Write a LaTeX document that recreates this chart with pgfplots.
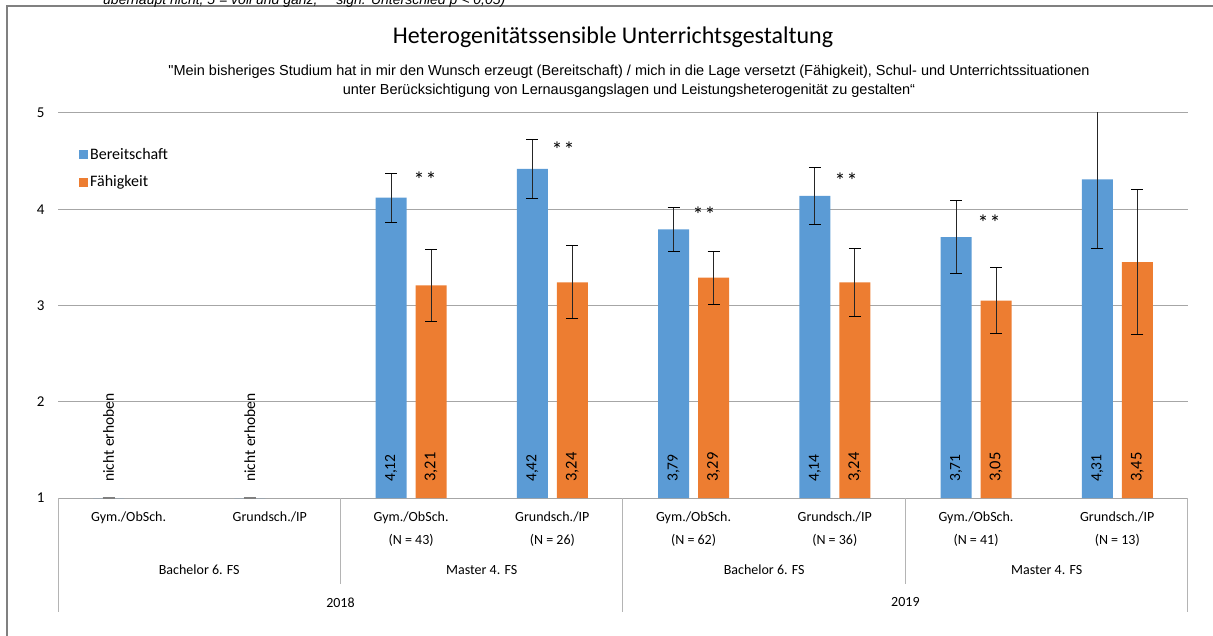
\documentclass[border=0pt]{standalone}
\usepackage{fontspec}
\setmainfont{Carlito}
\newfontfamily\arial{Liberation Sans}
\usepackage{pgfplots}
\pgfplotsset{compat=1.18}
\usepackage{pgfplotstable}
\definecolor{cblue}{RGB}{91,155,213}
\definecolor{corange}{RGB}{237,125,49}
\definecolor{gridc}{RGB}{166,166,166}
\definecolor{sepc}{RGB}{180,180,180}
\definecolor{framec}{RGB}{128,128,128}

\pgfplotstableread{
x b be o oe
2 4.12 0.255 3.21 0.375
3 4.42 0.305 3.24 0.38
4 3.79 0.225 3.29 0.275
5 4.14 0.295 3.24 0.355
6 3.71 0.38 3.05 0.34
7 4.31 0.72 3.45 0.755
}\bars

\pgfplotstableread{
x lab
0 {nicht erhoben}
1 {nicht erhoben}
2 4,12
3 4,42
4 3,79
5 4,14
6 3,71
7 4,31
}\blabels

\pgfplotstableread{
x lab
2 3,21
3 3,24
4 3,29
5 3,24
6 3,05
7 3,45
}\olabels

\pgfplotstableread{
x y
2.099 4.31
3.076 4.62
4.074 3.94
5.080 4.30
6.092 3.86
}\stars

\pgfplotstableread{
x y e
0 1 0
1 1 0
}\empt

\begin{document}
\begin{tikzpicture}
\useasboundingbox (0,0) rectangle (1213pt,635pt);
\draw[framec, line width=1.5pt] (7pt,-20pt) -- (7pt,629pt) -- (1240pt,629pt);
\node[anchor=base west, font=\arial\itshape\fontsize{14}{16}\selectfont, inner sep=0pt] at (103pt,630.5pt) {überhaupt nicht, 5 = voll und ganz; ** sign. Unterschied p < 0,05)};
\node[font=\fontsize{24}{28}\selectfont] at (613pt,598pt) {Heterogenitätssensible Unterrichtsgestaltung};
\node[font=\arial\fontsize{14.5}{19}\selectfont, align=center] at (629pt,553.5pt) {"Mein bisheriges Studium hat in mir den Wunsch erzeugt (Bereitschaft) / mich in die Lage versetzt (Fähigkeit), Schul- und Unterrichtssituationen\\unter Berücksichtigung von Lernausgangslagen und Leistungsheterogenität zu gestalten“};
\begin{axis}[
  at={(58pt,137pt)}, anchor=south west, scale only axis,
  width=1130pt, height=385pt,
  xmin=-0.5, xmax=7.5, ymin=1, ymax=5,
  ytick={1,2,3,4,5},
  xtick={0,...,7},
  xticklabels={{Gym./ObSch.},{Grundsch./IP},{Gym./ObSch.\\(N = 43)},{Grundsch./IP\\(N = 26)},{Gym./ObSch.\\(N = 62)},{Grundsch./IP\\(N = 36)},{Gym./ObSch.\\(N = 41)},{Grundsch./IP\\(N = 13)}},
  xticklabel style={align=center, font=\fontsize{14}{23}\selectfont, yshift=-10pt},
  yticklabel style={font=\fontsize{15}{18}\selectfont, xshift=-10pt},
  /pgf/number format/assume math mode=true,
  axis line style={draw=none},
  major tick length=0pt,
  ymajorgrids, grid style={gridc, line width=1pt},
  clip mode=individual,
  legend style={at={(axis description cs:0,1)}, anchor=north west, xshift=21pt, yshift=-33pt, draw=none, fill=none, font=\fontsize{16}{18}\selectfont, row sep=11pt, inner sep=0pt},
  legend cell align=left,
]
\addplot[ybar, bar width=31pt, bar shift=0pt, fill=cblue, draw=none,
  legend image code/.code={\fill[cblue] (-3pt,-4.5pt) rectangle (6pt,4.5pt);},
  error bars/.cd, y dir=both, y explicit,
  error bar style={black!85, line width=1pt},
  error mark options={rotate=90, mark size=6pt, black, line width=1pt}]
  table[x expr=\thisrow{x}-0.1416, y=b, y error=be] {\bars};
\addlegendentry{Bereitschaft}
\addplot[ybar, bar width=31pt, bar shift=0pt, fill=corange, draw=none,
  legend image code/.code={\fill[corange] (-3pt,-4.5pt) rectangle (6pt,4.5pt);},
  error bars/.cd, y dir=both, y explicit,
  error bar style={black!85, line width=1pt},
  error mark options={rotate=90, mark size=6pt, black, line width=1pt}]
  table[x expr=\thisrow{x}+0.1416, y=o, y error=oe] {\bars};
\addlegendentry{Fähigkeit}
\addplot[forget plot, ybar, bar width=31pt, bar shift=0pt, fill=cblue, draw=none,
  error bars/.cd, y dir=both, y explicit,
  error bar style={gray, line width=2pt},
  error mark options={rotate=90, mark size=6pt, gray, line width=3pt}]
  table[x expr=\thisrow{x}-0.1416, y=y, y error=e] {\empt};
\addplot[forget plot, draw=none, mark=none, nodes near coords, point meta=explicit symbolic,
  every node near coord/.append style={font=\fontsize{15.5}{18}\selectfont, yshift=16pt, rotate=90, anchor=west, inner sep=0pt}]
  table[x expr=\thisrow{x}-0.1416, y expr=1, meta=lab] {\blabels};
\addplot[forget plot, draw=none, mark=none, nodes near coords, point meta=explicit symbolic,
  every node near coord/.append style={font=\fontsize{16.5}{18}\selectfont, yshift=16pt, rotate=90, anchor=west, inner sep=0pt}]
  table[x expr=\thisrow{x}+0.1416, y expr=1, meta=lab] {\olabels};
\addplot[forget plot, draw=none, mark=none, nodes near coords={*\kern1pt*}, point meta=y,
  every node near coord/.append style={font=\fontsize{22}{22}\selectfont, anchor=center, inner sep=0pt}]
  table[x=x, y=y] {\stars};
% multi-level category axis
\draw[sepc, line width=1pt] (axis cs:-0.5,1) -- ([yshift=-114pt]axis cs:-0.5,1);
\draw[sepc, line width=1pt] (axis cs:3.5,1) -- ([yshift=-114pt]axis cs:3.5,1);
\draw[sepc, line width=1pt] (axis cs:7.5,1) -- ([yshift=-114pt]axis cs:7.5,1);
\draw[sepc, line width=1pt] (axis cs:1.5,1) -- ([yshift=-86pt]axis cs:1.5,1);
\draw[sepc, line width=1pt] (axis cs:5.5,1) -- ([yshift=-86pt]axis cs:5.5,1);
\node[font=\fontsize{14}{16}\selectfont, yshift=-72pt] at (axis cs:0.5,1) {Bachelor 6. FS};
\node[font=\fontsize{14}{16}\selectfont, yshift=-72pt] at (axis cs:2.5,1) {Master 4. FS};
\node[font=\fontsize{14}{16}\selectfont, yshift=-72pt] at (axis cs:4.5,1) {Bachelor 6. FS};
\node[font=\fontsize{14}{16}\selectfont, yshift=-72pt] at (axis cs:6.5,1) {Master 4. FS};
\node[font=\fontsize{14}{16}\selectfont, yshift=-104.5pt] at (axis cs:1.5,1) {2018};
\node[font=\fontsize{14}{16}\selectfont, yshift=-104.5pt] at (axis cs:5.5,1) {2019};
\end{axis}
\end{tikzpicture}
\end{document}
